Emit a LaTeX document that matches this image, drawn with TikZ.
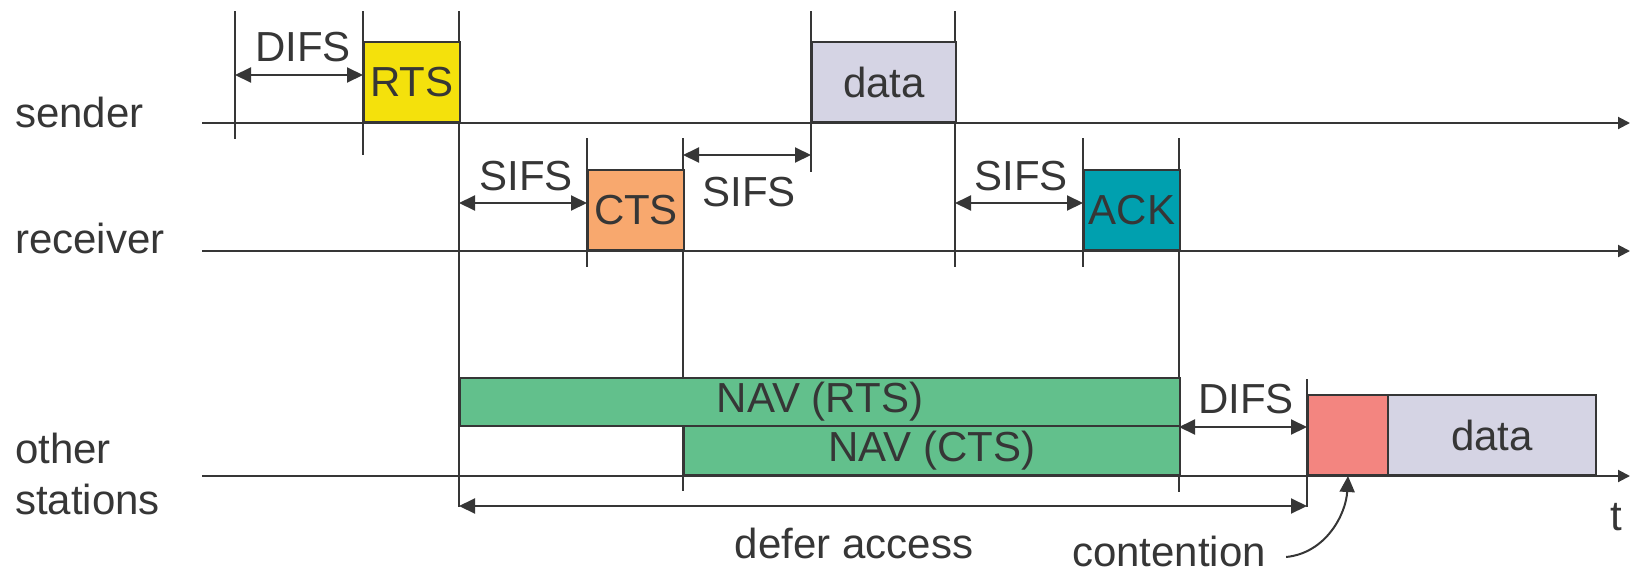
\documentclass[tikz,border=0pt]{standalone}
\usepackage{fontspec}
\setmainfont{Liberation Sans}
\usetikzlibrary{arrows.meta}
\definecolor{ink}{HTML}{363636}
\definecolor{rtsc}{HTML}{F4E10C}
\definecolor{ctsc}{HTML}{F8A86E}
\definecolor{ackc}{HTML}{00A0AF}
\definecolor{datac}{HTML}{D5D4E4}
\definecolor{navc}{HTML}{62C08C}
\definecolor{contc}{HTML}{F38580}
\begin{document}
\begin{tikzpicture}[x=1pt,y=-1pt,
  font=\fontsize{42}{51}\selectfont, text=ink,
  ln/.style={draw=ink, line width=2pt},
  frame/.style={draw=ink, line width=2pt, inner sep=0pt, anchor=south west, minimum height=80pt},
  dim/.style={ln, {Triangle[length=16pt,width=15pt]}-{Triangle[length=16pt,width=15pt]}},
  axis/.style={ln, -{Triangle[length=12pt,width=12pt]}},
  lbl/.style={inner sep=0pt},
  row/.style={inner sep=0pt, anchor=west, align=left}
]
\useasboundingbox (0,0) rectangle (1630,576);

% row labels
\node[row] (lsend) at (15,112) {sender};
\node[row] (lrecv) at (15,238) {receiver};
\node[row] (loth) at (15,474) {other\\stations};

% time axes
\coordinate (s0) at (202,123); \coordinate (s1) at (1630,123);
\coordinate (r0) at (202,251); \coordinate (r1) at (1630,251);
\coordinate (o0) at (202,476); \coordinate (o1) at (1630,476);
\draw[axis] (s0) -- (s1);
\draw[axis] (r0) -- (r1);
\draw[axis] (o0) -- (o1);

% ticks
\coordinate (k1a) at (235,11);  \coordinate (k1b) at (235,139);
\coordinate (k2a) at (363,11);  \coordinate (k2b) at (363,155);
\coordinate (k3a) at (459,11);  \coordinate (k3b) at (459,507);
\coordinate (k4a) at (587,138); \coordinate (k4b) at (587,267);
\coordinate (k5a) at (683,138); \coordinate (k5b) at (683,491);
\coordinate (k6a) at (811,11);  \coordinate (k6b) at (811,172);
\coordinate (k7a) at (955,11);  \coordinate (k7b) at (955,267);
\coordinate (k8a) at (1083,138);\coordinate (k8b) at (1083,267);
\coordinate (k9a) at (1179,138);\coordinate (k9b) at (1179,492);
\coordinate (k10a) at (1307,379);\coordinate (k10b) at (1307,507);
\foreach \k in {1,...,10} \draw[ln] (k\k a) -- (k\k b);

% frames
\node[frame, fill=rtsc, minimum width=96pt] (rts) at (363,123) {RTS};
\node[frame, fill=datac, minimum width=144pt] (data) at (811,123) {data};
\node[frame, fill=ctsc, minimum width=96pt] (cts) at (587,251) {CTS};
\node[frame, fill=ackc, minimum width=96pt] (ack) at (1083,251) {ACK};
\node[frame, fill=navc, minimum width=720pt, minimum height=48pt] (navr) at (459,427) {NAV (RTS)};
\node[frame, fill=navc, minimum width=496pt, minimum height=49pt] (navc) at (683,476) {NAV (CTS)};
\node[frame, fill=contc, minimum width=80pt] (cont) at (1307,476) {};
\node[frame, fill=datac, minimum width=208pt] (data2) at (1387,476) {data};

% interval arrows
\coordinate (d1a) at (235,75);   \coordinate (d1b) at (363,75);
\coordinate (d2a) at (459,203);  \coordinate (d2b) at (587,203);
\coordinate (d3a) at (683,155);  \coordinate (d3b) at (811,155);
\coordinate (d4a) at (955,203);  \coordinate (d4b) at (1083,203);
\coordinate (d5a) at (1179,427); \coordinate (d5b) at (1307,427);
\coordinate (d6a) at (459,506);  \coordinate (d6b) at (1307,506);
\foreach \k in {1,...,6} \draw[dim] (d\k a) -- (d\k b);

\node[lbl] (difs1) at (303,47) {DIFS};
\node[lbl] (sifs1) at (526,176) {SIFS};
\node[lbl] (sifs2) at (749,192) {SIFS};
\node[lbl] (sifs3) at (1021,176) {SIFS};
\node[lbl] (difs2) at (1246,399) {DIFS};
\node[lbl] (defer) at (854,543) {defer access};
\node[lbl] (tlab) at (1616,517) {t};
\node[lbl] (contl) at (1169,551) {contention};

\draw[ln, -{Triangle[length=16pt,width=15pt]}] ([xshift=20pt,yshift=-6pt]contl.east) .. controls +(40,-4) and +(-2,38) .. (cont.south);
\end{tikzpicture}
\end{document}
